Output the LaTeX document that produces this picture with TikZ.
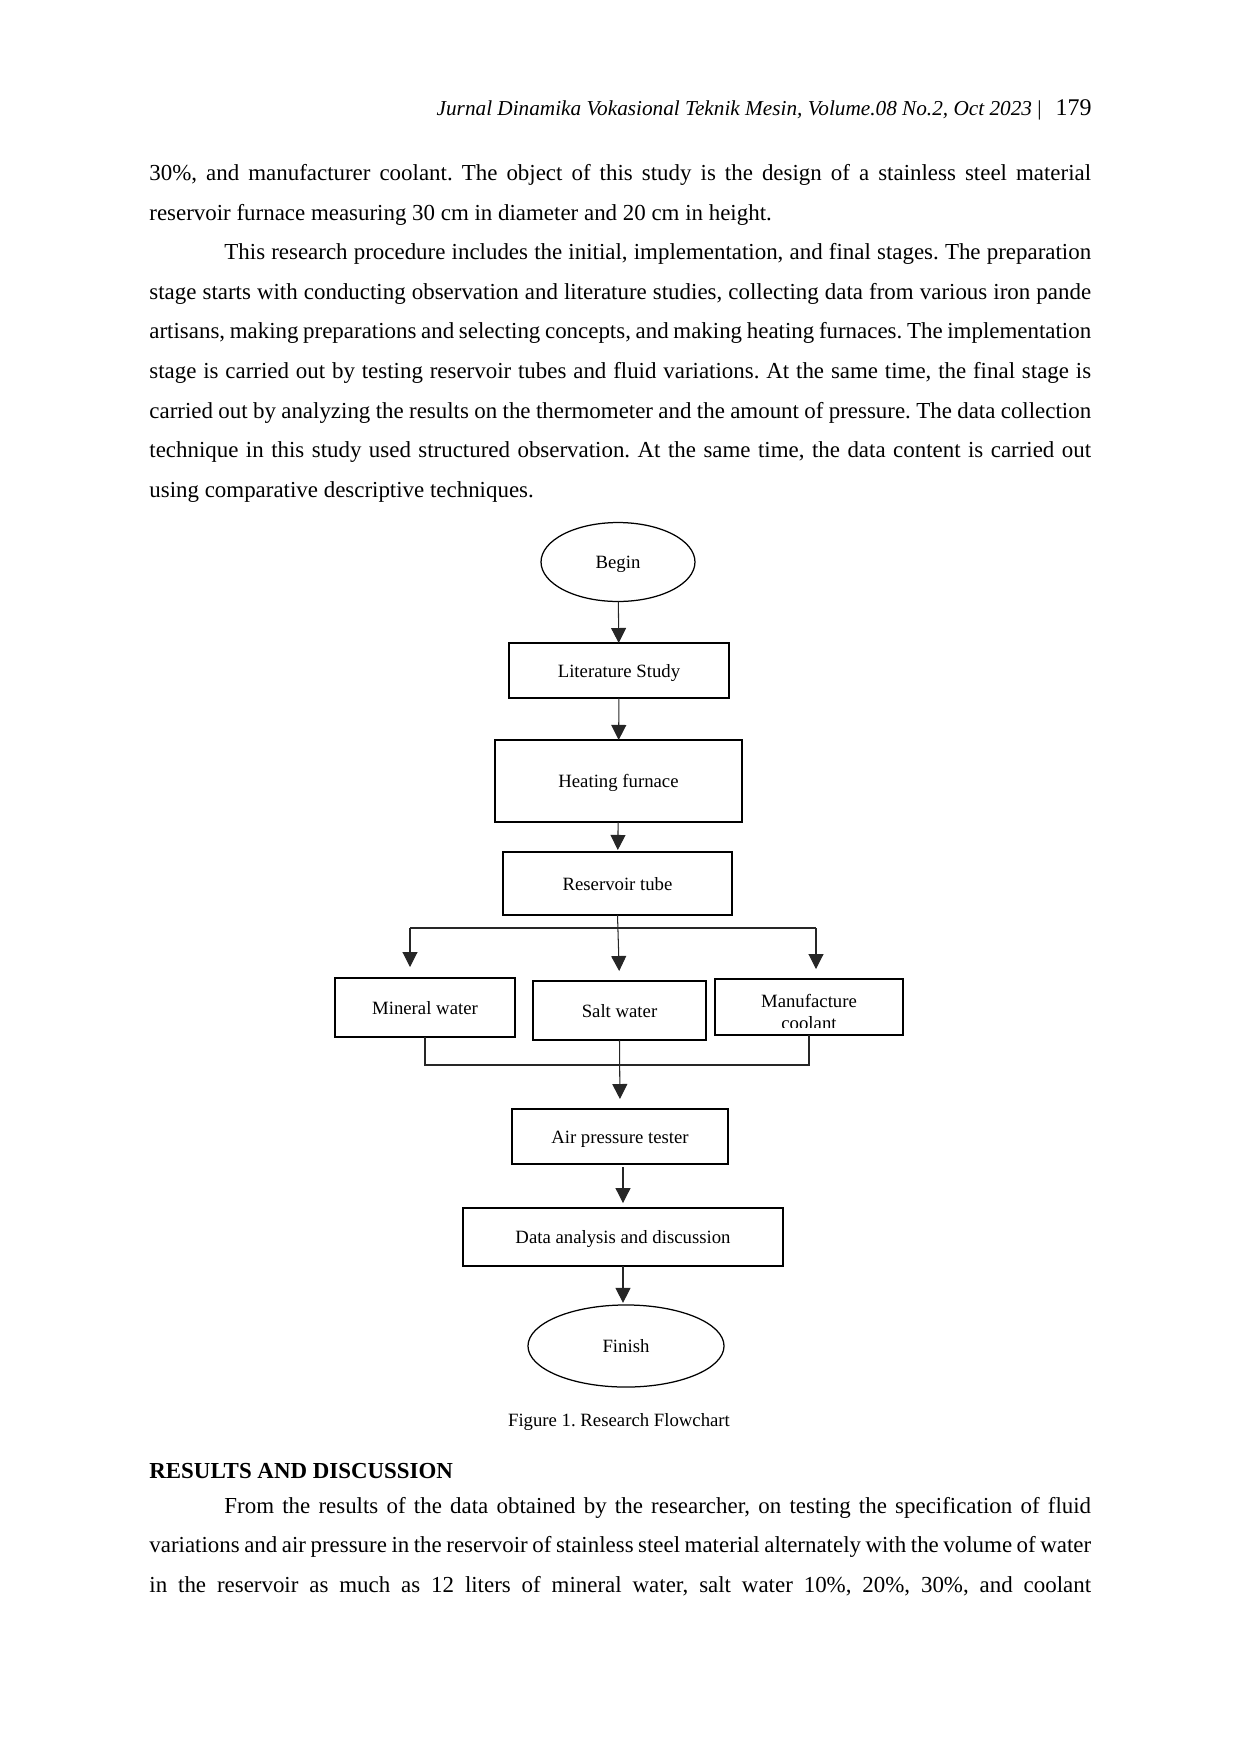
\documentclass[tikz,border=0pt]{standalone}
\usepackage{fontspec}
\setmainfont{Liberation Serif}
\usepackage{tikz}
\usetikzlibrary{arrows.meta}
\usetikzlibrary{shapes}

\newcommand{\fullline}[1]{\hbox to 452pt{#1}}
\newcommand{\indline}[1]{\hbox to 452pt{\hskip 36pt #1}}

\begin{document}
\frenchspacing
\begin{tikzpicture}[x=0.48pt,y=-0.48pt,
  box/.style={draw,line width=0.6pt,inner sep=0pt,outer sep=0pt,text height=6.4pt,text depth=0pt,font=\fontsize{9}{11}\selectfont},
  oval/.style={box,ellipse},
  link/.style={line width=0.5pt,black!85},
  arr/.style={link,-{Triangle[length=7.2pt,width=7.2pt]}},
  body/.style={anchor=base west,inner sep=0pt,font=\fontsize{11}{19}\selectfont}]
\useasboundingbox (0,0) rectangle (1240,1754);

% page header
\node[anchor=base east,inner sep=0pt,font=\fontsize{10.2}{12}\selectfont] (hdr) at (1042,115.5)
  {\textit{Jurnal Dinamika Vokasional Teknik Mesin, Volume.08 No.2, Oct 2023} |};
\node[anchor=base east,inner sep=0pt,font=\fontsize{11.5}{12}\selectfont] (pg) at (1092,115.5) {179};

% text above the figure
\node[body] (t1) at (149,180.4) {\fullline{30\%, and manufacturer coolant. The object of this study is the design of a stainless steel material}};
\node[body] (t2) at (149,220) {reservoir furnace measuring 30 cm in diameter and 20 cm in height.};
\node[body] (t3) at (149,259.6) {\indline{This research procedure includes the initial, implementation, and final stages. The preparation}};
\node[body] (t4) at (149,299.2) {\fullline{stage starts with conducting observation and literature studies, collecting data from various iron pande}};
\node[body] (t5) at (149,338.8) {\fullline{artisans, making preparations and selecting concepts, and making heating furnaces. The implementation}};
\node[body] (t6) at (149,378.4) {\fullline{stage is carried out by testing reservoir tubes and fluid variations. At the same time, the final stage is}};
\node[body] (t7) at (149,418) {\fullline{carried out by analyzing the results on the thermometer and the amount of pressure. The data collection}};
\node[body] (t8) at (149,457.6) {\fullline{technique in this study used structured observation. At the same time, the data content is carried out}};
\node[body] (t9) at (149,497.2) {using comparative descriptive techniques.};

% flowchart
\node[oval,minimum width=73.9pt,minimum height=37.9pt] (begin) at (618,562) {Begin};
\node[box,minimum width=105.6pt,minimum height=26.4pt] (lit) at (619,670.5) {Literature Study};
\node[box,minimum width=118.6pt,minimum height=39.4pt] (heat) at (618.5,781) {Heating furnace};
\node[box,minimum width=109.9pt,minimum height=30.2pt] (res) at (617.5,883.5) {Reservoir tube};
\node[box,minimum width=86.4pt,minimum height=28.3pt] (mineral) at (425,1007.5) {Mineral water};
\node[box,minimum width=83pt,minimum height=28.3pt] (salt) at (619.5,1010.5) {Salt water};
\node[box,minimum width=90.2pt,minimum height=26.9pt] (manu) at (809,1007) {};
\begin{scope}
\clip (715,979) rectangle (903,1027);
\node[inner sep=0pt,align=center,font=\fontsize{9}{11}\selectfont] (manutxt) at (809,1012) {Manufacture\\coolant};
\end{scope}
\node[box,minimum width=103.7pt,minimum height=26.4pt] (air) at (620,1136.5) {Air pressure tester};
\node[box,minimum width=153.6pt,minimum height=27.8pt] (data) at (623,1237) {Data analysis and discussion};
\node[oval,minimum width=94.1pt,minimum height=39.4pt] (finish) at (626,1346) {Finish};

\coordinate (bl) at (410,928);
\coordinate (br) at (816,928);
\coordinate (blt) at (410,967);
\coordinate (brt) at (816,969);
\coordinate (mj) at (425,1065);
\coordinate (cj) at (809,1065);

\draw[arr] (begin) -- (lit);
\draw[arr] (lit) -- (heat);
\draw[arr,shorten >=1pt] (heat) -- (res);
\draw[link] (bl) -- (br);
\draw[arr] (bl) -- (blt);
\draw[arr] (br) -- (brt);
\draw[arr,shorten >=4.8pt] (res.south) -- (salt.north);
\draw[link] (mineral.south) -- (mj) -- (cj) -- (manu.south);
\draw[arr,shorten >=4.8pt] (salt.south) -- (air.north);
\draw[arr,shorten >=2.4pt] ([yshift=-1.5pt]air.south -| data.north) -- (data.north);
\draw[arr,shorten >=1pt] (data.south) -- (data.south |- finish.north);

\node[inner sep=0pt,anchor=base,font=\fontsize{9}{11}\selectfont] (cap) at (619,1426.4) {Figure 1. Research Flowchart};

% text below the figure
\node[body] (hd) at (149,1478) {\textbf{RESULTS AND DISCUSSION}};
\node[body] (b1) at (149,1513.4) {\indline{From the results of the data obtained by the researcher, on testing the specification of fluid}};
\node[body] (b2) at (149,1552.9) {\fullline{variations and air pressure in the reservoir of stainless steel material alternately with the volume of water}};
\node[body] (b3) at (149,1592.4) {\fullline{in the reservoir as much as 12 liters of mineral water, salt water 10\%, 20\%, 30\%, and coolant}};
\end{tikzpicture}
\end{document}
